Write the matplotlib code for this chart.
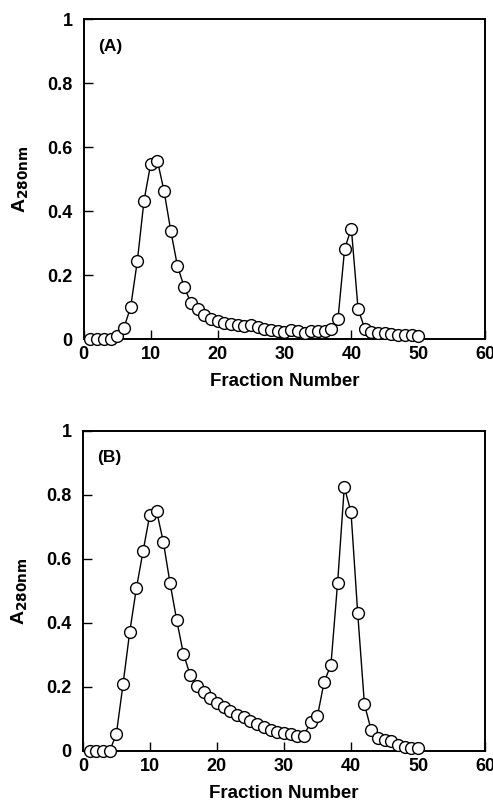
import matplotlib
matplotlib.use("Agg")
import matplotlib.pyplot as plt

plt.rcParams['font.family'] = ['Liberation Sans', 'DejaVu Sans']
plt.rcParams['font.weight'] = 'bold'

# fraction numbers 1..50
fractions = list(range(1, 51))

# panel A absorbance
abs_a = [0.0, 0.0, 0.0, 0.0, 0.01, 0.036, 0.10, 0.244, 0.433, 0.548,
         0.558, 0.463, 0.339, 0.229, 0.164, 0.114, 0.093, 0.076, 0.063, 0.057,
         0.052, 0.049, 0.046, 0.042, 0.044, 0.039, 0.033, 0.028, 0.025, 0.023,
         0.028, 0.025, 0.021, 0.025, 0.025, 0.025, 0.033, 0.063, 0.283, 0.346,
         0.096, 0.033, 0.023, 0.020, 0.018, 0.015, 0.013, 0.013, 0.013, 0.009]

# panel B absorbance
abs_b = [0.0, 0.0, 0.0, 0.0, 0.053, 0.209, 0.373, 0.51, 0.626, 0.739,
         0.75, 0.654, 0.526, 0.409, 0.304, 0.238, 0.204, 0.183, 0.167, 0.151,
         0.136, 0.124, 0.113, 0.107, 0.094, 0.085, 0.076, 0.066, 0.058, 0.055,
         0.053, 0.048, 0.048, 0.092, 0.11, 0.217, 0.268, 0.526, 0.825, 0.746,
         0.43, 0.146, 0.066, 0.042, 0.034, 0.031, 0.019, 0.011, 0.010, 0.010]

panels = [("(A)", abs_a, [0.170, 0.577, 0.814, 0.399]),
          ("(B)", abs_b, [0.168, 0.0636, 0.816, 0.399])]

xticks = [0, 10, 20, 30, 40, 50, 60]
yticks = [0, 0.2, 0.4, 0.6, 0.8, 1.0]
ylabels = ["0", "0.2", "0.4", "0.6", "0.8", "1"]

fig = plt.figure(figsize=(4.93, 8.02), dpi=100)

for tag, vals, rect in panels:
    ax = fig.add_axes(rect)
    ax.plot(fractions, vals, color='black', linewidth=1.0, marker='o',
            markersize=8.5, markerfacecolor='white', markeredgecolor='black',
            markeredgewidth=1.0, clip_on=False, zorder=3)
    ax.set_xlim(0, 60)
    ax.set_ylim(0, 1)
    ax.set_xticks(xticks)
    ax.set_xticklabels([str(t) for t in xticks])
    ax.set_yticks(yticks)
    ax.set_yticklabels(ylabels)
    ax.tick_params(direction='in', length=6.5, width=1.0, labelsize=13,
                   top=False, right=False)
    ax.tick_params(axis='x', pad=5)
    ax.tick_params(axis='y', pad=8)
    for s in ax.spines.values():
        s.set_linewidth(1.4)
    ax.set_xlabel("Fraction Number", fontsize=13.5, fontweight='bold', labelpad=7)
    ax.set_ylabel(r"A$_{\mathbf{280nm}}$", fontsize=14, fontweight='bold', labelpad=12)
    ax.text(0.035, 0.916, tag, transform=ax.transAxes, fontsize=12.5,
            fontweight='bold', va='center', ha='left')

fig.savefig("out.png", dpi=100)
